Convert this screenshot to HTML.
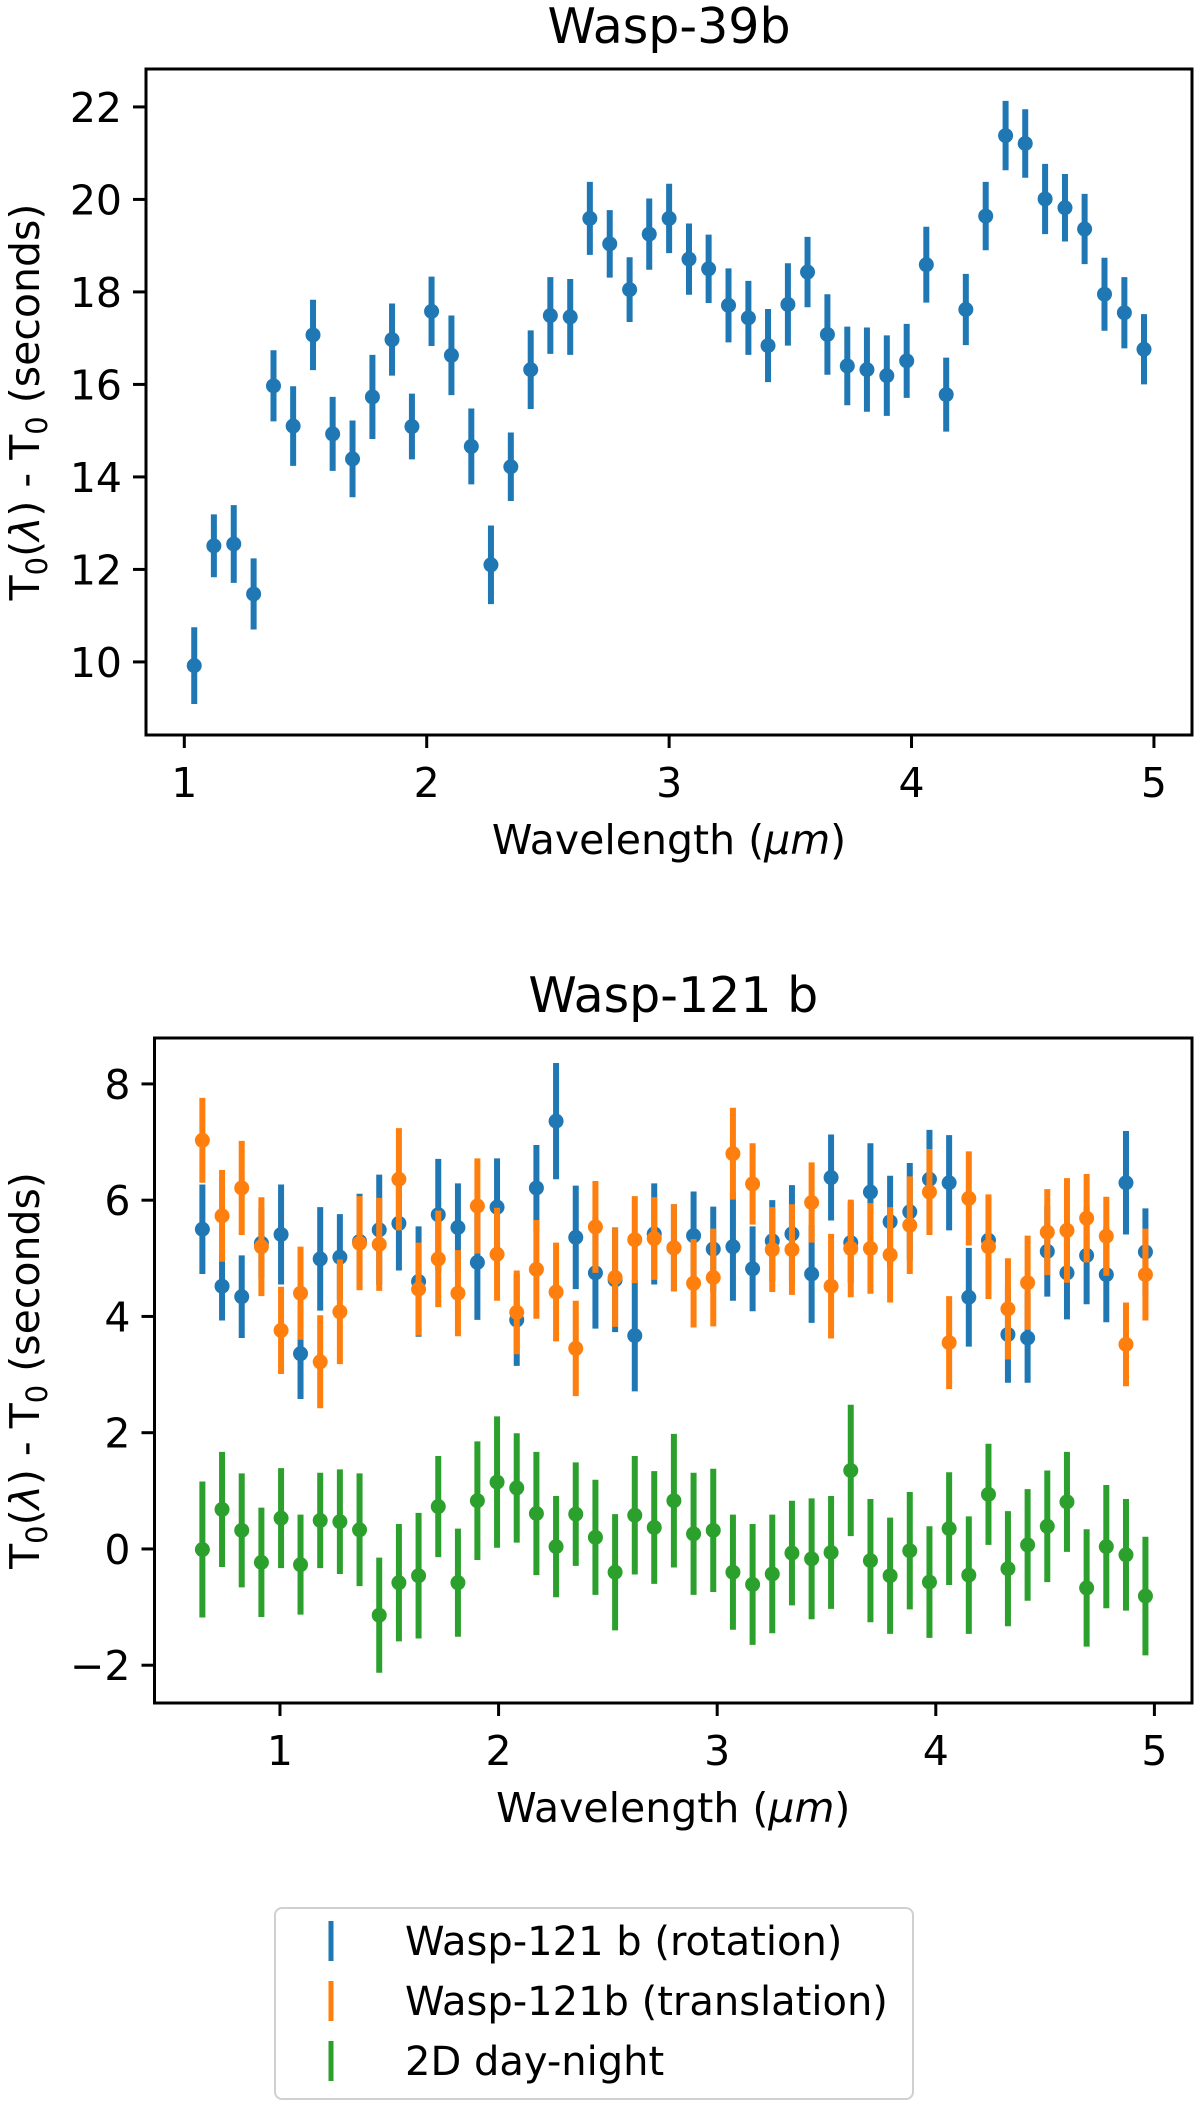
<!DOCTYPE html>
<html><head><meta charset="utf-8"><style>
html,body{margin:0;padding:0;background:#fff;}
svg{display:block;font-family:"DejaVu Sans","Liberation Sans",sans-serif;}
</style></head><body>
<svg id="fig" width="1200" height="2106" viewBox="0 0 1200 2106" xmlns="http://www.w3.org/2000/svg">
<rect width="1200" height="2106" fill="#fff"/>
<g id="p1"></g>
<g id="p2"></g>
<g id="legend">
  <rect x="275" y="1908" width="638" height="191" rx="7" fill="#fff" stroke="#d0d0d0" stroke-width="2"/>
  <line x1="331" y1="1921" x2="331" y2="1961" stroke="#1f77b4" stroke-width="5"/>
  <text x="405" y="1955" font-size="40">Wasp-121 b (rotation)</text>
  <line x1="331" y1="1981" x2="331" y2="2021" stroke="#ff7f0e" stroke-width="5"/>
  <text x="405" y="2015" font-size="40">Wasp-121b (translation)</text>
  <line x1="331" y1="2041" x2="331" y2="2081" stroke="#2ca02c" stroke-width="5"/>
  <text x="405" y="2075" font-size="40">2D day-night</text>
</g>
</svg>
<script>
// ---- Wasp-39b data ----
const w39X = [1.041,1.122,1.204,1.286,1.368,1.449,1.531,1.612,1.694,1.776,1.857,1.939,2.020,2.102,2.184,2.265,2.347,2.429,2.510,2.592,2.673,2.755,2.837,2.918,3.000,3.082,3.163,3.245,3.327,3.408,3.490,3.571,3.653,3.735,3.816,3.898,3.980,4.061,4.143,4.224,4.306,4.388,4.469,4.551,4.633,4.714,4.796,4.878,4.959];
const w39Y = [9.92,12.51,12.55,11.47,15.97,15.10,17.07,14.93,14.39,15.73,16.97,15.09,17.58,16.63,14.66,12.10,14.22,16.32,17.49,17.46,19.59,19.04,18.05,19.25,19.59,18.71,18.50,17.71,17.44,16.84,17.73,18.43,17.08,16.40,16.32,16.19,16.51,18.59,15.78,17.62,19.64,21.38,21.21,20.01,19.82,19.36,17.95,17.55,16.76];
const w39Err = [0.83,0.68,0.84,0.77,0.77,0.86,0.76,0.80,0.83,0.91,0.78,0.71,0.75,0.86,0.82,0.85,0.74,0.85,0.83,0.82,0.79,0.73,0.70,0.77,0.75,0.77,0.74,0.80,0.80,0.79,0.89,0.76,0.87,0.85,0.91,0.87,0.80,0.82,0.80,0.77,0.74,0.75,0.74,0.76,0.73,0.76,0.79,0.77,0.76];
const w39XTicks = [1,2,3,4,5];
const w39YTicks = [10,12,14,16,18,20,22];

// ---- Wasp-121b data ----
const w121X = [0.645,0.735,0.825,0.915,1.005,1.094,1.184,1.274,1.364,1.454,1.544,1.634,1.724,1.814,1.903,1.993,2.083,2.173,2.263,2.353,2.443,2.533,2.623,2.712,2.802,2.892,2.982,3.072,3.162,3.252,3.342,3.432,3.521,3.611,3.701,3.791,3.881,3.971,4.061,4.151,4.241,4.330,4.420,4.510,4.600,4.690,4.780,4.870,4.959];
const rotY = [5.50,4.52,4.34,5.26,5.41,3.36,4.99,5.02,5.29,5.49,5.60,4.60,5.75,5.53,4.93,5.88,3.94,6.21,7.36,5.36,4.75,4.63,3.67,5.42,5.18,5.39,5.16,5.20,4.82,5.30,5.42,4.73,6.39,5.27,6.14,5.63,5.80,6.36,6.30,4.33,5.31,3.69,3.63,5.12,4.75,5.05,4.72,6.30,5.11];
const rotErr = [0.77,0.59,0.71,0.60,0.86,0.78,0.89,0.74,0.82,0.95,0.81,0.95,0.96,0.76,0.99,0.84,0.79,0.74,1.00,0.89,0.96,0.90,0.96,0.87,0.75,0.76,0.73,0.93,0.73,0.70,0.84,0.84,0.74,0.70,0.84,0.79,0.84,0.85,0.82,0.85,0.76,0.83,0.77,0.78,0.80,0.84,0.82,0.89,0.75];
const traY = [7.03,5.73,6.21,5.20,3.76,4.40,3.22,4.08,5.26,5.24,6.36,4.47,4.99,4.40,5.90,5.07,4.07,4.81,4.42,3.45,5.54,4.67,5.32,5.34,5.18,4.57,4.67,6.80,6.28,5.15,5.15,5.96,4.52,5.17,5.17,5.06,5.57,6.14,3.55,6.03,5.20,4.13,4.58,5.45,5.48,5.69,5.38,3.52,4.72];
const traErr = [0.73,0.79,0.81,0.85,0.75,0.80,0.80,0.90,0.81,0.80,0.88,0.80,0.83,0.74,0.82,0.80,0.72,0.85,0.85,0.82,0.79,0.85,0.75,0.71,0.75,0.76,0.84,0.79,0.70,0.73,0.78,0.69,0.90,0.84,0.78,0.82,0.84,0.74,0.80,0.81,0.90,0.87,0.81,0.74,0.90,0.76,0.68,0.72,0.79];
const dnY = [-0.01,0.68,0.32,-0.23,0.53,-0.27,0.49,0.47,0.33,-1.14,-0.58,-0.46,0.73,-0.58,0.83,1.15,1.05,0.61,0.04,0.60,0.20,-0.40,0.58,0.37,0.83,0.26,0.32,-0.40,-0.61,-0.43,-0.07,-0.17,-0.06,1.35,-0.20,-0.46,-0.03,-0.57,0.35,-0.45,0.94,-0.34,0.07,0.39,0.81,-0.67,0.04,-0.10,-0.81];
const dnErr = [1.17,0.99,0.98,0.94,0.86,0.86,0.82,0.90,0.97,0.99,1.01,1.08,0.87,0.93,1.02,1.13,0.94,1.06,0.87,0.89,0.99,1.00,1.02,0.97,1.15,1.05,1.06,0.99,1.04,1.02,0.90,1.04,0.97,1.13,1.06,1.00,1.01,0.96,0.97,1.01,0.87,0.99,0.96,0.96,0.86,1.01,1.06,0.96,1.02];
const w121XTicks = [1,2,3,4,5];
const w121YTicks = [-2,0,2,4,6,8];
const w121YLabels = ["\u22122","0","2","4","6","8"];

const NS = "http://www.w3.org/2000/svg";
function mk(parent, tag, attrs, txt){
  const e = document.createElementNS(NS, tag);
  for (const k in attrs) e.setAttribute(k, attrs[k]);
  if (txt !== undefined) e.textContent = txt;
  parent.appendChild(e);
  return e;
}
function linScale(d0,d1,r0,r1){ return v => r0 + (v-d0)*(r1-r0)/(d1-d0); }

function drawPanel(g, box, xs, ys, xTicks, yTicks, yLabels, title, seriesList){
  const sx = linScale(xs[0], xs[1], box.x0, box.x1);
  const sy = linScale(ys[0], ys[1], box.y1, box.y0);
  seriesList.forEach(s => {
    const sg = mk(g, 'g', {});
    
    
    s.x.forEach((xv, i) => {
      const cx = sx(xv), cy = sy(s.y[i]);
      const ln = mk(sg, 'line', {x1:cx, x2:cx, y1:sy(s.y[i]+s.e[i]), y2:sy(s.y[i]-s.e[i]), stroke:s.color, 'stroke-width':6});
      
      
      const c = mk(sg, 'circle', {cx:cx, cy:cy, r:7.5, fill:s.color});
      
      
    });
  });
  const fr = mk(g, 'rect', {x:box.x0, y:box.y0, width:box.x1-box.x0, height:box.y1-box.y0, fill:'none', stroke:'#000', 'stroke-width':3});
  
  
  xTicks.forEach(t => {
    const x = sx(t);
    const tl = mk(g, 'line', {x1:x, x2:x, y1:box.y1, y2:box.y1+13, stroke:'#000', 'stroke-width':3});
    
    
    const tx = mk(g, 'text', {x:x, y:box.y1+62, 'font-size':41, 'text-anchor':'middle'}, String(t));
    
    
  });
  yTicks.forEach((t, i) => {
    const y = sy(t);
    const tl = mk(g, 'line', {x1:box.x0-13, x2:box.x0, y1:y, y2:y, stroke:'#000', 'stroke-width':3});
    
    
    const tx = mk(g, 'text', {x:box.x0-24, y:y+15, 'font-size':41, 'text-anchor':'end'}, yLabels[i]);
    
    
  });
  const cx = (box.x0+box.x1)/2, cy = (box.y0+box.y1)/2;
  const tt = mk(g, 'text', {x:cx, y:box.y0-26, 'font-size':49, 'text-anchor':'middle'}, title);
  
  
  const xl = mk(g, 'text', {x:cx, y:box.y1+119, 'font-size':41, 'text-anchor':'middle'});
  
  
  xl.innerHTML = 'Wavelength (<tspan font-style="italic">μm</tspan>)';
  const yl = mk(g, 'text', {x:0, y:0, 'font-size':41, 'text-anchor':'middle', transform:'translate(39,'+cy+') rotate(-90)'});
  
  
  yl.innerHTML = 'T<tspan font-size="29" dy="8">0</tspan><tspan dy="-8">(</tspan><tspan font-style="italic">λ</tspan>) - T<tspan font-size="29" dy="8">0</tspan><tspan dy="-8"> (seconds)</tspan>';
}

drawPanel(document.getElementById('p1'),
  {x0:146, x1:1192, y0:69, y1:735},
  [0.842, 5.157], [8.42, 22.82], w39XTicks, w39YTicks, w39YTicks.map(String), 'Wasp-39b',
  [{name:'wasp-39b-series', x:w39X, y:w39Y, e:w39Err, color:'#1f77b4'}]);

drawPanel(document.getElementById('p2'),
  {x0:154.5, x1:1192, y0:1038, y1:1703},
  [0.426, 5.172], [-2.65, 8.79], w121XTicks, w121YTicks, w121YLabels, 'Wasp-121 b',
  [{name:'rotation-series', x:w121X, y:rotY, e:rotErr, color:'#1f77b4'},
   {name:'translation-series', x:w121X, y:traY, e:traErr, color:'#ff7f0e'},
   {name:'day-night-series', x:w121X, y:dnY, e:dnErr, color:'#2ca02c'}]);
</script>
</body></html>
